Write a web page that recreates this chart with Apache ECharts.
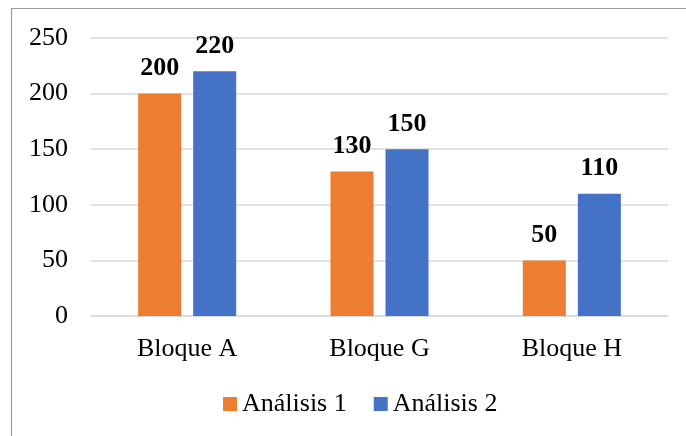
<!DOCTYPE html>
<html>
<head>
<meta charset="utf-8">
<script src="https://cdn.jsdelivr.net/npm/echarts@6/dist/echarts.min.js"></script>
<style>
html, body { margin: 0; padding: 0; background: #fff; }
#chart { width: 686px; height: 436px; }
</style>
</head>
<body>
<div id="chart"></div>
<script>
// Chart data
const categories = ['Bloque A', 'Bloque G', 'Bloque H'];
const analisis1 = [200, 130, 50];
const analisis2 = [220, 150, 110];
const seriesNames = ['Análisis 1', 'Análisis 2'];

const FONT = '"Liberation Serif", "Times New Roman", serif';
const chart = echarts.init(document.getElementById('chart'), null, { renderer: 'canvas' });

const labelStyle = {
  show: true,
  position: 'top',
  distance: 12,
  fontFamily: FONT,
  fontSize: 26,
  fontWeight: 'bold',
  color: '#000'
};

chart.setOption({
  animation: false,
  backgroundColor: '#fff',
  graphic: [{
    type: 'rect',
    shape: { x: 11.5, y: 8.5, width: 700, height: 460 },
    style: { fill: 'none', stroke: '#9a9a9a', lineWidth: 1.2 },
    silent: true
  }],
  grid: { left: 91, right: 18, top: 38, bottom: 120 },
  legend: {
    bottom: 14,
    left: 218,
    itemWidth: 14,
    itemHeight: 14,
    itemGap: 27,
    icon: 'rect',
    textStyle: { fontFamily: FONT, fontSize: 26, color: '#000', padding: [0, 0, 0, 0] },
    data: seriesNames
  },
  xAxis: {
    type: 'category',
    data: categories,
    axisLine: { show: true, lineStyle: { color: '#d9d9d9', width: 1.5 } },
    axisTick: { show: false },
    axisLabel: { fontFamily: FONT, fontSize: 26, color: '#000', margin: 20 }
  },
  yAxis: {
    type: 'value',
    min: 0,
    max: 250,
    interval: 50,
    axisLine: { show: false },
    axisTick: { show: false },
    splitLine: { lineStyle: { color: '#d9d9d9', width: 1.5 } },
    axisLabel: { fontFamily: FONT, fontSize: 26, color: '#000', margin: 23 }
  },
  series: [
    {
      name: seriesNames[0],
      type: 'bar',
      data: analisis1,
      barWidth: 43,
      barGap: '28%',
      itemStyle: { color: '#ED7D31' },
      label: labelStyle
    },
    {
      name: seriesNames[1],
      type: 'bar',
      data: analisis2,
      barWidth: 43,
      barGap: '28%',
      itemStyle: { color: '#4472C4' },
      label: labelStyle
    }
  ]
});
</script>
</body>
</html>
